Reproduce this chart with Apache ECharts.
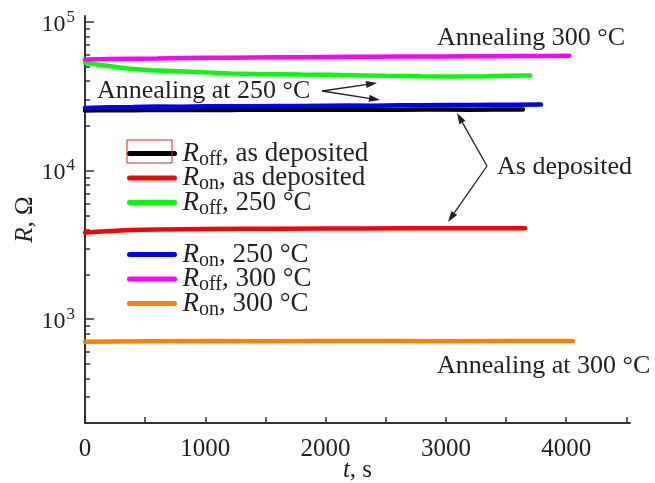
<!DOCTYPE html>
<html><head><meta charset="utf-8">
<script src="https://cdn.jsdelivr.net/npm/echarts@6/dist/echarts.min.js"></script>
<style>html,body{margin:0;padding:0;background:#fff}#c{width:655px;height:483px}</style>
</head><body><div id="c"></div>
<script>
// ---- data (t in s, R in Ohm) ----
const blackT = [0, 200, 400, 600, 800, 1000, 1200, 1400, 1600, 1800, 2000, 2200, 2400, 2600, 2800, 3000, 3200, 3400, 3640];
const blackR = [25400, 25600, 25500, 25700, 25600, 25700, 25600, 25800, 25700, 25700, 25800, 25700, 25800, 25700, 25800, 25800, 25700, 25800, 25800];
const redT = [0, 100, 372, 600, 800, 1000, 1300, 1600, 2000, 2300, 2700, 3000, 3300, 3658];
const redR = [3830, 3880, 3990, 4020, 4040, 4050, 4060, 4070, 4080, 4085, 4090, 4095, 4095, 4100];
const greenT = [0, 100, 200, 372, 550, 788, 1000, 1204, 1400, 1620, 1800, 2036, 2300, 2500, 2785, 3000, 3340, 3500, 3700];
const greenR = [53500, 51800, 50600, 48500, 47500, 46700, 45900, 45100, 44800, 44600, 44400, 44200, 43800, 43500, 43200, 43100, 43200, 43500, 43700];
const blueT = [0, 200, 400, 600, 800, 1000, 1200, 1400, 1600, 1800, 2000, 2200, 2400, 2600, 2800, 3000, 3200, 3400, 3600, 3790];
const blueR = [26400, 26700, 26800, 27000, 26900, 27100, 27200, 27100, 27300, 27300, 27400, 27500, 27400, 27600, 27600, 27700, 27700, 27800, 27800, 27900];
const magT = [0, 200, 400, 600, 800, 1000, 1200, 1400, 1600, 1800, 2000, 2200, 2400, 2600, 2800, 3000, 3200, 3400, 3600, 3800, 4024];
const magR = [56000, 56400, 56800, 57000, 57300, 57500, 57600, 57800, 58000, 58100, 58300, 58400, 58500, 58600, 58700, 58800, 58900, 59000, 59100, 59200, 59300];
const orangeT = [0, 500, 1000, 1500, 2000, 2500, 3000, 3500, 4055];
const orangeR = [705, 711, 712, 711, 712, 712, 711, 712, 712];

const xTicks = [0, 500, 1000, 1500, 2000, 2500, 3000, 3500, 4000, 4500];
const xLabels = [0, 1000, 2000, 3000, 4000];
const yMajor = [1000, 10000, 100000];
const yMinor = [300, 400, 500, 600, 700, 800, 900, 2000, 3000, 4000, 5000, 6000, 7000, 8000, 9000, 20000, 30000, 40000, 50000, 60000, 70000, 80000, 90000];

const names = ['Roff_dep', 'Ron_dep', 'Roff_250', 'Ron_250', 'Roff_300', 'Ron_300'];
const subs = ['off', 'on', 'off', 'on', 'off', 'on'];
const rest = [', as deposited', ', as deposited', ', 250 °C', ', 250 °C', ', 300 °C', ', 300 °C'];
const colors = ['#000000', '#ff0000', '#00ff00', '#0000ff', '#ff00ff', '#ff8000'];
const seriesT = [blackT, redT, greenT, blueT, magT, orangeT];
const seriesR = [blackR, redR, greenR, blueR, magR, orangeR];

const FONT = 'Liberation Serif';
const TXT = '#231f20';
const AX = '#333333';
const FS = 25;
const LFS = 27;
const AFS = 26;

function zip(a, b) { return a.map((v, i) => [v, b[i]]); }

const legendRich = {
  i: { fontFamily: FONT, fontSize: LFS, fontStyle: 'italic', color: TXT, lineHeight: 25, padding: [0, 0, 0, 3] },
  s: { fontFamily: FONT, fontSize: 20, color: TXT, lineHeight: 13, padding: [12, 0, 0, 0] },
  n: { fontFamily: FONT, fontSize: LFS, color: TXT, lineHeight: 25 }
};
function legendFmt(name) {
  const k = names.indexOf(name);
  return '{i|R}{s|' + subs[k] + '}{n|' + rest[k] + '}';
}

const chart = echarts.init(document.getElementById('c'));

function arrow(x0, y0, x1, y1) {
  const dx = x1 - x0, dy = y1 - y0, L = Math.hypot(dx, dy);
  const ux = dx / L, uy = dy / L, hl = 11, hw = 3.5;
  const bx = x1 - ux * hl, by = y1 - uy * hl;
  return [
    { type: 'line', shape: { x1: x0, y1: y0, x2: bx, y2: by }, style: { stroke: TXT, lineWidth: 1.3 } },
    { type: 'polygon', shape: { points: [[x1, y1], [bx - uy * hw, by + ux * hw], [bx + uy * hw, by - ux * hw]] }, style: { fill: TXT } }
  ];
}
function label(text, x, y) {
  return { type: 'text', left: x, top: y, style: { text: text, font: AFS + 'px "' + FONT + '"', fill: TXT } };
}

const graphics = [
  { type: 'rect', shape: { x: 127, y: 140, width: 45, height: 23 }, style: { fill: 'none', stroke: '#e02020', lineWidth: 1 }, z: 10 },
  label('Annealing 300 °C', 437, 25),
  label('Annealing at 250 °C', 97, 78),
  label('As deposited', 497, 154),
  label('Annealing at 300 °C', 437, 353),
  ...arrow(322, 91, 377, 83),
  ...arrow(322, 91, 380, 100),
  ...arrow(487, 166, 457, 113),
  ...arrow(487, 166, 448, 222)
];

const legendBase = {
  orient: 'vertical', left: 127, itemWidth: 45, itemHeight: 14, itemGap: -7.5, padding: 0,
  formatter: legendFmt, textStyle: { rich: legendRich }, selectedMode: false,
  itemStyle: { opacity: 0 }, lineStyle: { width: 5, cap: 'round' }
};

chart.setOption({
  animation: false,
  backgroundColor: '#fff',
  grid: { left: 85, right: 25, top: 16, bottom: 60, containLabel: false, outerBoundsMode: 'none' },
  xAxis: {
    type: 'value', min: 0, max: 4530,
    name: '{i|t}, s', nameLocation: 'middle', nameGap: 35, nameMoveOverlap: false,
    nameTextStyle: { fontFamily: FONT, fontSize: FS, color: TXT, rich: { i: { fontFamily: FONT, fontSize: FS, fontStyle: 'italic', color: TXT } } },
    axisLine: { show: true, onZero: false, lineStyle: { color: AX, width: 2 } },
    axisTick: { show: true, inside: true, length: 6, customValues: xTicks, lineStyle: { color: AX, width: 1.5 } },
    axisLabel: { customValues: xLabels, formatter: v => String(v), fontFamily: FONT, fontSize: FS, color: TXT, margin: 14 },
    splitLine: { show: false }
  },
  yAxis: [
    {
      type: 'log', logBase: 10, min: 200, max: 110000,
      name: '{i|R}, Ω', nameLocation: 'middle', nameGap: 47, nameRotate: 90, nameMoveOverlap: false,
      nameTextStyle: { fontFamily: FONT, fontSize: FS, color: TXT, rich: { i: { fontFamily: FONT, fontSize: FS, fontStyle: 'italic', color: TXT } } },
      axisLine: { show: true, onZero: false, lineStyle: { color: AX, width: 2 } },
      axisTick: { show: true, inside: true, length: 9, customValues: yMajor, lineStyle: { color: AX, width: 1.5 } },
      axisLabel: {
        customValues: yMajor, margin: 10,
        formatter: v => '{b|10}{p|' + Math.round(Math.log10(v)) + '}',
        rich: {
          b: { fontFamily: FONT, fontSize: 24, color: TXT, padding: [5, 0, 0, 0] },
          p: { fontFamily: FONT, fontSize: 17, color: TXT, lineHeight: 12, padding: [0, 0, 10, 1] }
        }
      },
      splitLine: { show: false }
    },
    {
      type: 'log', logBase: 10, min: 200, max: 110000, position: 'left', offset: 0,
      axisLine: { show: false },
      axisTick: { show: true, inside: true, length: 5, customValues: yMinor, lineStyle: { color: AX, width: 1.5 } },
      axisLabel: { show: false },
      splitLine: { show: false }
    }
  ],
  legend: [
    Object.assign({}, legendBase, { data: names.slice(0, 3), top: 137.5 }),
    Object.assign({}, legendBase, { data: names.slice(3), top: 238.5 })
  ],
  series: names.map((n, k) => ({
    name: n, type: 'line', yAxisIndex: 0, symbol: 'none', showSymbol: false,
    data: zip(seriesT[k], seriesR[k]),
    lineStyle: { color: colors[k], width: 4.5, cap: 'round' },
    itemStyle: { color: colors[k] },
    z: 2 + k
  })),
  graphic: graphics
});
</script>
</body></html>
